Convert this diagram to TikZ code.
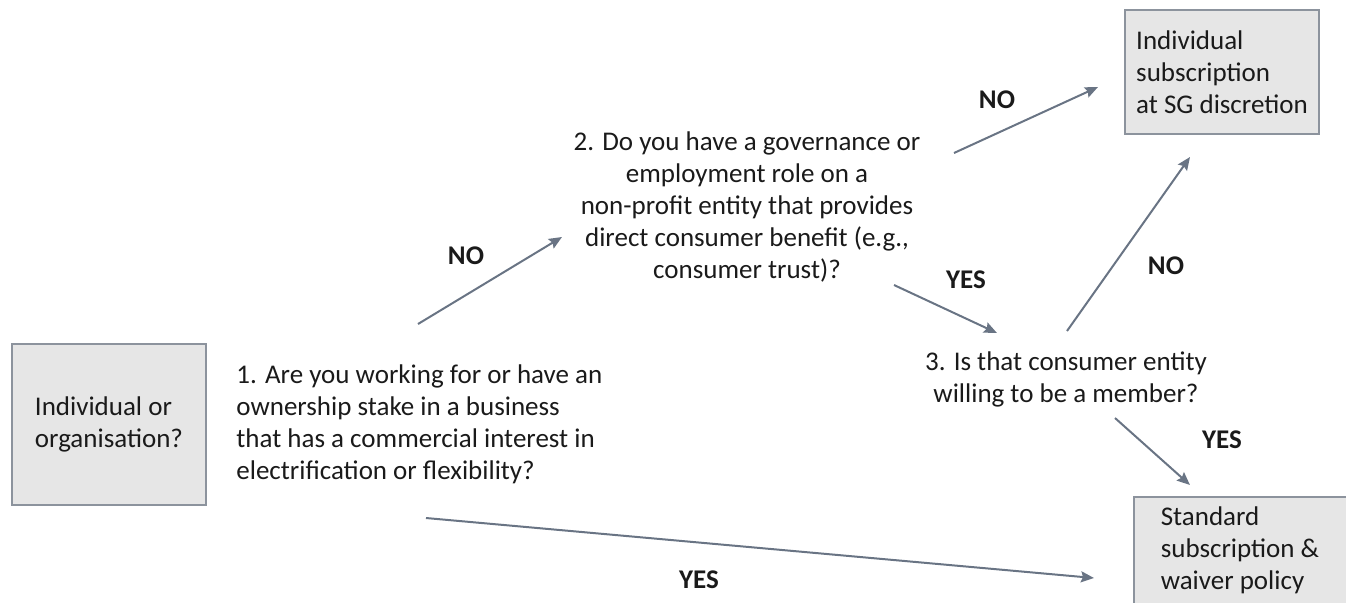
\documentclass[tikz,border=0pt]{standalone}
\usepackage{fontspec}
\setmainfont{Carlito}
\usetikzlibrary{arrows.meta}
\definecolor{boxfill}{RGB}{230,230,230}
\definecolor{boxline}{RGB}{140,147,157}
\definecolor{arrowc}{RGB}{105,116,132}
\definecolor{txt}{RGB}{26,26,26}
\newcommand{\bodyfont}{\fontsize{13.5}{16}\selectfont}
\begin{document}
\begin{tikzpicture}[x=0.5pt,y=-0.5pt,
  every node/.style={text=txt},
  outcome/.style={draw=boxline, fill=boxfill, line width=0.8pt, minimum width=97pt, align=left, inner sep=0pt, font=\bodyfont},
  question/.style={inner sep=0pt, font=\bodyfont},
  lab/.style={inner sep=0pt, font=\bodyfont\bfseries},
  conn/.style={draw=arrowc, line width=1pt, -{Stealth[length=6.5pt,width=5.5pt,inset=1pt]}}]
\useasboundingbox (0,0) rectangle (1346,602);
\clip (0,0) rectangle (1346,602);

% nodes
\node[outcome, minimum height=80.5pt] (start) at (109,424.5) {Individual or\\organisation?};
\node[outcome, minimum height=62pt] (indiv) at (1222,72) {Individual\\subscription\\at SG discretion};
\node[outcome, minimum width=112pt, minimum height=56pt, anchor=north west] (std) at (1133,496) {};
\node[question, align=left] (stdtext) at (1240,550) {Standard\\subscription \&\\waiver policy};

\node[question, align=left, anchor=west] (q1) at (236,424) {1. Are you working for or have an\\ownership stake in a business\\that has a commercial interest in\\electrification or flexibility?};
\node[question, align=center] (q2) at (747,207) {2. Do you have a governance or\\employment role on a\\non-profit entity that provides\\direct consumer benefit (e.g.,\\consumer trust)?};
\node[question, align=center] (q3) at (1066,379.5) {3. Is that consumer entity\\willing to be a member?};

% connector end points
\coordinate (q1n) at (418,324);
\coordinate (q2w) at (562,237);
\coordinate (q1s) at (426,518);
\coordinate (stdw) at (1094,578);
\coordinate (q2e) at (954,153);
\coordinate (indivw) at (1098,87);
\coordinate (q2s) at (894,285);
\coordinate (q3n) at (997,333);
\coordinate (q3ne) at (1067,331);
\coordinate (indivs) at (1190,157);
\coordinate (q3se) at (1115,418);
\coordinate (stdn) at (1190,485);

% connectors
\draw[conn] (q1n) -- (q2w);
\draw[conn] (q1s) -- (stdw);
\draw[conn] (q2e) -- (indivw);
\draw[conn] (q2s) -- (q3n);
\draw[conn] (q3ne) -- (indivs);
\draw[conn] (q3se) -- (stdn);

% labels
\node[lab] (l1) at (466,256) {NO};
\node[lab] (l2) at (699,580) {YES};
\node[lab] (l3) at (997,100) {NO};
\node[lab] (l4) at (966,280) {YES};
\node[lab] (l5) at (1166,266) {NO};
\node[lab] (l6) at (1222,440) {YES};
\end{tikzpicture}
\end{document}
